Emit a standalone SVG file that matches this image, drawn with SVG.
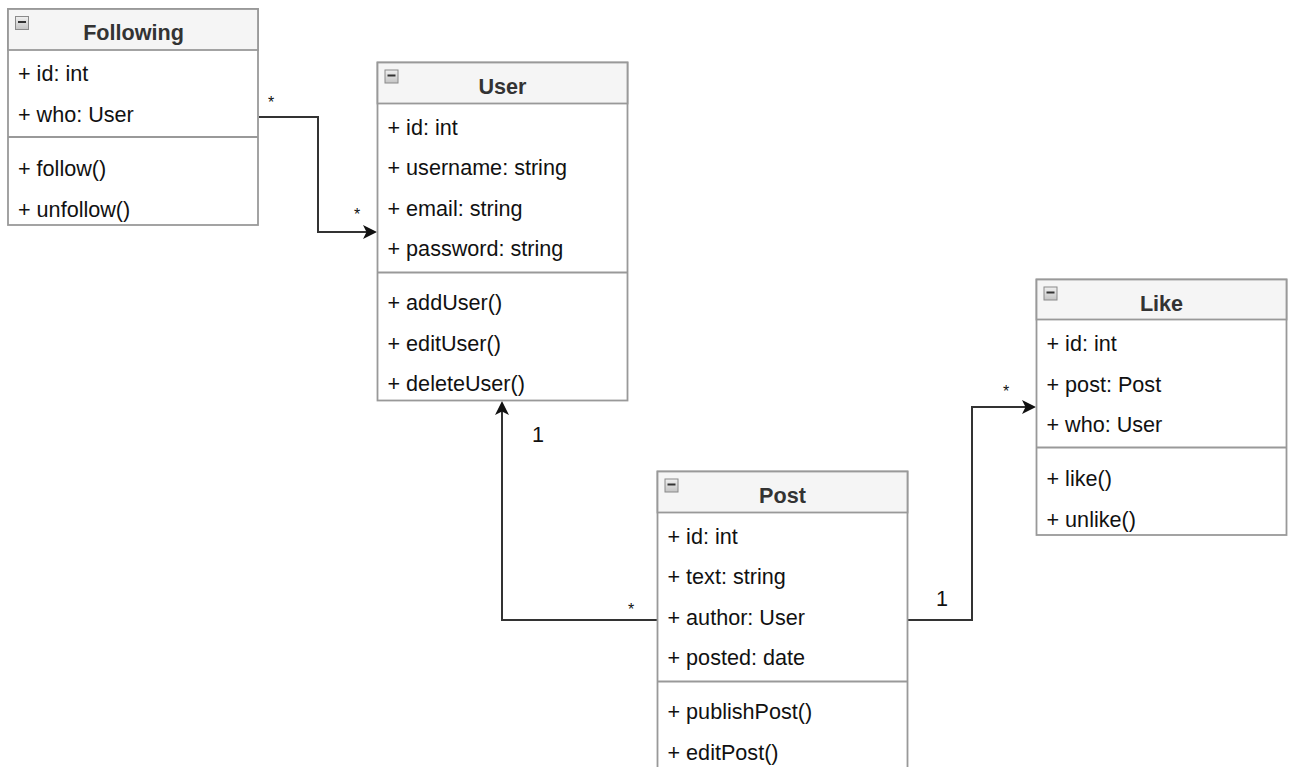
<svg xmlns="http://www.w3.org/2000/svg" width="1293" height="767" viewBox="0 0 1293 767">
<style>
.box{fill:#ffffff;stroke:#999999;stroke-width:1.8}
.hdr{fill:#f5f5f5;stroke:#999999;stroke-width:1.8}
.sep{stroke:#999999;stroke-width:1.8}
.title{font-family:"Liberation Sans",Arial,sans-serif;font-size:21.6px;font-weight:bold;fill:#333333;text-anchor:middle}
.row{font-family:"Liberation Sans",Arial,sans-serif;font-size:21.6px;fill:#111111}
.icon{fill:url(#ig);stroke:#8a8a8a;stroke-width:1}
.minus{stroke:#333333;stroke-width:2}
.edge{fill:none;stroke:#333333;stroke-width:2}
.star{font-family:"Liberation Sans",Arial,sans-serif;font-size:16px;fill:#111111;text-anchor:middle}
.one{font-family:"Liberation Sans",Arial,sans-serif;font-size:21.6px;fill:#111111;text-anchor:middle}
</style>
<defs>
<linearGradient id="ig" x1="0" y1="0" x2="0" y2="1">
<stop offset="0" stop-color="#f0f0f0"/>
<stop offset="1" stop-color="#c4c4c4"/>
</linearGradient>
<marker id="arr" markerUnits="userSpaceOnUse" viewBox="0 0 14 14" refX="11" refY="7" markerWidth="14" markerHeight="14" orient="auto">
<path d="M0,0 L14,7 L0,14 L3.5,7 Z" fill="#111111"/>
</marker>
</defs>
<rect width="1293" height="767" fill="#ffffff"/>

<g id="connectors">
<path class="edge" d="M259,117 H318 V232 H374" marker-end="url(#arr)"/>
<path class="edge" d="M657,620 H502 V404" marker-end="url(#arr)"/>
<path class="edge" d="M908,620 H972 V407 H1033" marker-end="url(#arr)"/>
<text class="star" x="271" y="108">*</text>
<text class="star" x="357" y="220">*</text>
<text class="one" x="538" y="442">1</text>
<text class="star" x="631" y="615">*</text>
<text class="one" x="942" y="606">1</text>
<text class="star" x="1006" y="397">*</text>
</g>

<g id="following">
<rect class="box" x="8" y="9" width="250" height="216"/>
<rect class="hdr" x="8" y="9" width="250" height="41"/>
<rect class="icon" x="15.5" y="16.5" width="13" height="13"/>
<line class="minus" x1="18" y1="22" x2="26" y2="22"/>
<text class="title" x="133.5" y="40">Following</text>
<text class="row" x="18" y="81">+ id: int</text>
<text class="row" x="18" y="122">+ who: User</text>
<line class="sep" x1="8" y1="137" x2="258" y2="137"/>
<text class="row" x="18" y="176">+ follow()</text>
<text class="row" x="18" y="216.5">+ unfollow()</text>
</g>

<g id="user">
<rect class="box" x="377.5" y="62.5" width="250" height="338"/>
<rect class="hdr" x="377.5" y="62.5" width="250" height="41"/>
<rect class="icon" x="385" y="70" width="13" height="13"/>
<line class="minus" x1="387.5" y1="75.5" x2="395.5" y2="75.5"/>
<text class="title" x="502.5" y="93.5">User</text>
<text class="row" x="387.5" y="134.5">+ id: int</text>
<text class="row" x="387.5" y="175">+ username: string</text>
<text class="row" x="387.5" y="215.5">+ email: string</text>
<text class="row" x="387.5" y="256">+ password: string</text>
<line class="sep" x1="377.5" y1="272.5" x2="627.5" y2="272.5"/>
<text class="row" x="387.5" y="310">+ addUser()</text>
<text class="row" x="387.5" y="350.5">+ editUser()</text>
<text class="row" x="387.5" y="391">+ deleteUser()</text>
</g>

<g id="post">
<rect class="box" x="657.5" y="471.5" width="250" height="340"/>
<rect class="hdr" x="657.5" y="471.5" width="250" height="41"/>
<rect class="icon" x="665" y="479" width="13" height="13"/>
<line class="minus" x1="667.5" y1="484.5" x2="675.5" y2="484.5"/>
<text class="title" x="782.5" y="502.5">Post</text>
<text class="row" x="667.5" y="543.5">+ id: int</text>
<text class="row" x="667.5" y="584">+ text: string</text>
<text class="row" x="667.5" y="624.5">+ author: User</text>
<text class="row" x="667.5" y="665">+ posted: date</text>
<line class="sep" x1="657.5" y1="681.5" x2="907.5" y2="681.5"/>
<text class="row" x="667.5" y="719">+ publishPost()</text>
<text class="row" x="667.5" y="759.5">+ editPost()</text>
</g>

<g id="like">
<rect class="box" x="1036.5" y="279.5" width="250" height="255.5"/>
<rect class="hdr" x="1036.5" y="279.5" width="250" height="40"/>
<rect class="icon" x="1044" y="287" width="13" height="13"/>
<line class="minus" x1="1046.5" y1="292.5" x2="1054.5" y2="292.5"/>
<text class="title" x="1161.5" y="310.5">Like</text>
<text class="row" x="1046.5" y="351">+ id: int</text>
<text class="row" x="1046.5" y="391.5">+ post: Post</text>
<text class="row" x="1046.5" y="432">+ who: User</text>
<line class="sep" x1="1036.5" y1="447.5" x2="1286.5" y2="447.5"/>
<text class="row" x="1046.5" y="486">+ like()</text>
<text class="row" x="1046.5" y="526.5">+ unlike()</text>
</g>
</svg>
